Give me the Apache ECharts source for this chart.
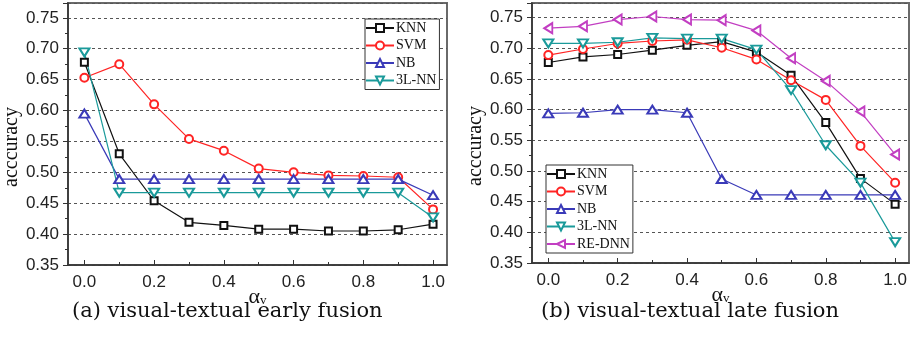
<!DOCTYPE html>
<html><head><meta charset="utf-8">
<script src="https://cdn.jsdelivr.net/npm/echarts@6/dist/echarts.min.js"></script>
<style>html,body{margin:0;padding:0;background:#fff}#c{width:912px;height:347px}</style>
</head><body><div id="c"></div>
<script>
const alphaV = [0.0,0.1,0.2,0.3,0.4,0.5,0.6,0.7,0.8,0.9,1.0];
const xMajor = [0.0,0.2,0.4,0.6,0.8,1.0];
const xMinor = [0.1,0.3,0.5,0.7,0.9];
// (a) early fusion
const earlyKNN  = [0.678,0.530,0.454,0.419,0.414,0.408,0.408,0.405,0.405,0.407,0.416];
const earlySVM  = [0.653,0.675,0.610,0.554,0.535,0.506,0.500,0.495,0.494,0.492,0.440];
const earlyNB   = [0.595,0.489,0.489,0.489,0.489,0.489,0.489,0.489,0.489,0.489,0.463];
const early3LNN = [0.694,0.467,0.467,0.467,0.467,0.467,0.467,0.467,0.467,0.467,0.427];
// (b) late fusion
const lateKNN   = [0.677,0.686,0.690,0.697,0.705,0.711,0.694,0.656,0.579,0.488,0.446];
const lateSVM   = [0.689,0.699,0.708,0.712,0.714,0.701,0.682,0.648,0.616,0.541,0.481];
const lateNB    = [0.594,0.595,0.600,0.600,0.595,0.487,0.461,0.461,0.461,0.461,0.461];
const late3LNN  = [0.708,0.708,0.710,0.717,0.716,0.716,0.698,0.632,0.542,0.481,0.384];
const lateREDNN = [0.733,0.736,0.747,0.752,0.747,0.746,0.729,0.684,0.647,0.597,0.527];

const colors = {'KNN':'#111111','SVM':'#ff2424','NB':'#3a3ab8','3L-NN':'#1a9a9a','RE-DNN':'#c23ec2'};
const symbols = {
  'KNN':{symbol:'emptyRect',symbolSize:7,symbolRotate:0},
  'SVM':{symbol:'emptyCircle',symbolSize:8,symbolRotate:0},
  'NB':{symbol:'emptyTriangle',symbolSize:[10,8],symbolRotate:0},
  '3L-NN':{symbol:'emptyTriangle',symbolSize:[10,8],symbolRotate:180},
  'RE-DNN':{symbol:'emptyTriangle',symbolSize:[10,8],symbolRotate:90}
};
const serif = 'Liberation Serif';
const capFont = 'DejaVu Serif';
const sans = 'Liberation Sans';

function mkSeries(name, vals, xi, yi){
  return Object.assign({
    type:'line', name:name, xAxisIndex:xi, yAxisIndex:yi,
    data: alphaV.map((x,i)=>[x, vals[i]]),
    lineStyle:{color:colors[name], width:1.2},
    itemStyle:{color:colors[name], borderColor:colors[name], borderWidth:1.2},
    clip:false, animation:false
  }, symbols[name]);
}

function xAxes(gi){
  return [{
    type:'value', gridIndex:gi, min:-0.047, max:1.04, position:'bottom',
    name:'{a|α}{v|v}', nameLocation:'middle', nameGap:21, nameMoveOverlap:false,
    nameTextStyle:{rich:{a:{fontFamily:serif,fontSize:22,color:'#111'},v:{fontFamily:serif,fontSize:13,color:'#111',padding:[8,0,0,0]}}},
    axisLine:{show:true, onZero:false, lineStyle:{color:'#333', width:1.5}},
    axisTick:{show:true, inside:true, length:5, customValues:xMajor, lineStyle:{color:'#333'}},
    axisLabel:{show:true, customValues:xMajor, margin:9, fontFamily:sans, fontSize:17, color:'#222', formatter:v=>v.toFixed(1)},
    splitLine:{show:false}
  },{
    type:'value', gridIndex:gi, min:-0.047, max:1.04, position:'bottom',
    axisLine:{show:false, onZero:false},
    axisTick:{show:true, inside:true, length:3, customValues:xMinor, lineStyle:{color:'#333'}},
    axisLabel:{show:false, customValues:xMinor},
    splitLine:{show:false}
  }];
}
function yAxis(gi){
  return {
    type:'value', gridIndex:gi, min:0.35, max:0.774, interval:0.05,
    name:'acccuracy', nameLocation:'middle', nameGap:46,
    nameTextStyle:{fontFamily:serif, fontSize:20, color:'#111', padding:[0,0,0,-26]},
    axisLine:{show:true, onZero:false, lineStyle:{color:'#333', width:1.5}},
    axisTick:{show:true, inside:false, length:5, lineStyle:{color:'#333'}},
    minorTick:{show:true, splitNumber:2, length:3, lineStyle:{color:'#333'}},
    axisLabel:{margin:9, fontFamily:sans, fontSize:17, color:'#222', formatter:v=>v.toFixed(2)},
    splitLine:{show:true, lineStyle:{color:'#555', width:1, type:[3,3]}}
  };
}

const series = [
  mkSeries('KNN', earlyKNN, 0, 0),
  mkSeries('SVM', earlySVM, 0, 0),
  mkSeries('NB', earlyNB, 0, 0),
  mkSeries('3L-NN', early3LNN, 0, 0),
  mkSeries('KNN', lateKNN, 2, 1),
  mkSeries('SVM', lateSVM, 2, 1),
  mkSeries('NB', lateNB, 2, 1),
  mkSeries('3L-NN', late3LNN, 2, 1),
  mkSeries('RE-DNN', lateREDNN, 2, 1)
];

const legendBase = {
  orient:'vertical', itemWidth:28, itemHeight:10, itemGap:3.5,
  borderColor:'#333', borderWidth:1, backgroundColor:'#fff',
  padding:[2,3,2,0],
  textStyle:{fontFamily:serif, fontSize:14, lineHeight:13, color:'#111', padding:[0,0,0,-3]},
  selectedMode:false
};

const chart = echarts.init(document.getElementById('c'), null, {renderer:'canvas'});
chart.setOption({
  animation:false,
  backgroundColor:'#fff',
  grid:[
    {left:68, top:3, width:379, height:262, show:true, borderColor:'#6a6a6a', borderWidth:2, backgroundColor:'transparent'},
    {left:532, top:3, width:377, height:260, show:true, borderColor:'#6a6a6a', borderWidth:2, backgroundColor:'transparent'}
  ],
  xAxis: xAxes(0).concat(xAxes(1)),
  yAxis: [yAxis(0), yAxis(1)],
  legend:[
    Object.assign({}, legendBase, {left:365, top:19, data:['KNN','SVM','NB','3L-NN']}),
    Object.assign({}, legendBase, {left:546, top:165, data:['KNN','SVM','NB','3L-NN','RE-DNN']})
  ],
  series: series,
  graphic:[
    {type:'text', left:72, top:301, style:{text:'(a) visual-textual early fusion', fontFamily:capFont, fontSize:21, fill:'#111'}},
    {type:'text', left:541, top:301, style:{text:'(b) visual-textual late fusion', fontFamily:capFont, fontSize:21, fill:'#111'}}
  ]
});
</script></body></html>
